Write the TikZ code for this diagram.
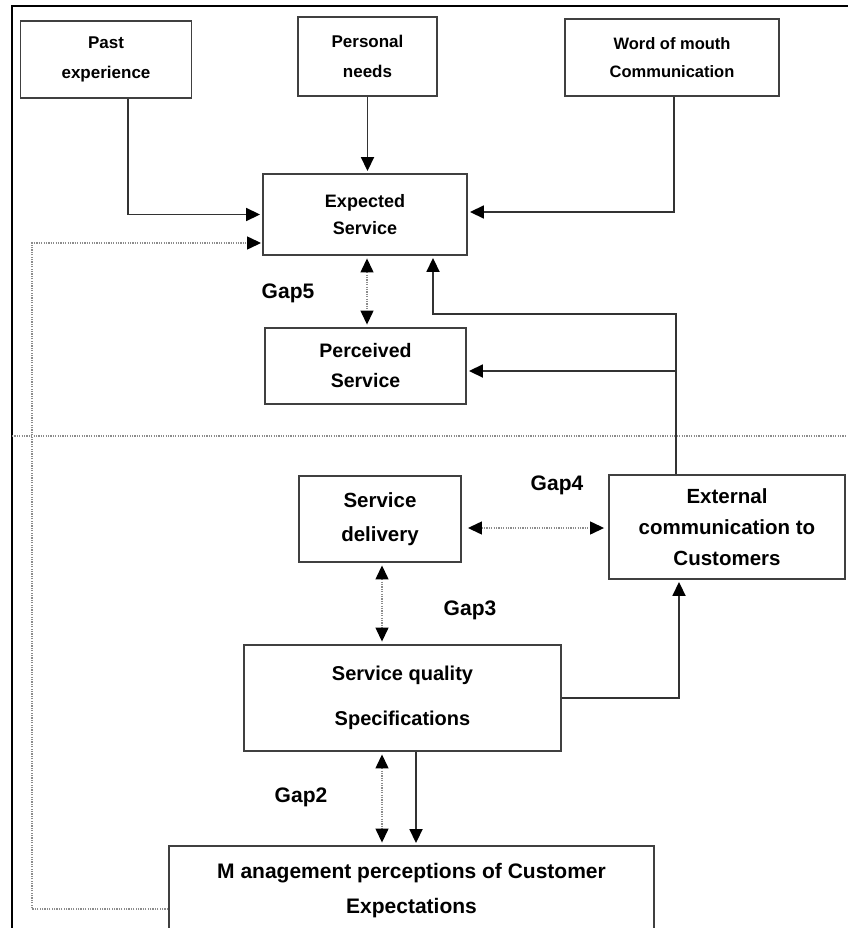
\documentclass[tikz,border=0pt]{standalone}
\usepackage{fontspec}
\setmainfont{Liberation Sans}
\usetikzlibrary{arrows.meta}
\tikzset{
  box/.style={draw=black!75, line width=1.9pt, rectangle, align=center, inner sep=0pt, font=\bfseries},
  conn/.style={draw=black!80, line width=1.8pt},
  tipA/.tip={Triangle[length=14pt,width=13pt,fill=black,color=black]},
  arr/.style={conn, -tipA, shorten >=2pt},
  dotln/.style={draw=black!45, line width=1.3pt, dash pattern=on 1.2pt off 1.2pt},
  dotarr/.style={dotln, -tipA, shorten >=1pt},
  dotdbl/.style={dotln, tipA-tipA, shorten >=2.5pt, shorten <=2.5pt},
  gap/.style={font=\bfseries\fontsize{21}{25}\selectfont, inner sep=0pt},
  frame/.style={draw=black, line width=2.6pt}
}
\begin{document}
\begin{tikzpicture}[x=1pt,y=-1pt]
\useasboundingbox (0,0) rectangle (847,928);
% frame
\coordinate (fa) at (12,930);
\coordinate (fb) at (12,6);
\coordinate (fc) at (849,6);
\draw[frame] (fa) -- (fb) -- (fc);
% horizontal dotted divider
\coordinate (da) at (12,436);
\coordinate (db) at (847,436);
\draw[dotln] (da) -- (db);

% boxes
\node[box, minimum width=171pt, minimum height=77pt, font=\bfseries\fontsize{17}{30}\selectfont] (past) at (106,59.5) {Past\\experience};
\node[box, minimum width=139pt, minimum height=79pt, font=\bfseries\fontsize{17}{30}\selectfont] (pers) at (367.5,56.5) {Personal\\needs};
\node[box, minimum width=214pt, minimum height=77pt, font=\bfseries\fontsize{16.5}{28}\selectfont] (wom) at (672,57.5) {Word of mouth\\Communication};
\node[box, minimum width=204pt, minimum height=81pt, font=\bfseries\fontsize{18}{27}\selectfont] (exp) at (365,214.5) {Expected\\Service};
\node[box, minimum width=201pt, minimum height=76pt, font=\bfseries\fontsize{19.5}{30}\selectfont] (perc) at (365.5,366) {Perceived\\Service};
\node[box, minimum width=162pt, minimum height=86pt, font=\bfseries\fontsize{20.5}{34}\selectfont] (sd) at (380,519) {Service\\delivery};
\node[box, minimum width=236pt, minimum height=104pt, font=\bfseries\fontsize{20.5}{31}\selectfont] (ext) at (727,527) {External\\communication to\\Customers};
\node[box, minimum width=317pt, minimum height=106pt, font=\bfseries\fontsize{20}{45}\selectfont] (sq) at (402.5,698) {Service quality\\Specifications};
\node[box, minimum width=485pt, minimum height=89pt, font=\bfseries\fontsize{21}{35}\selectfont] (mgmt) at (411.5,890.5) {M anagement perceptions of Customer\\Expectations};

% gap labels
\node[gap] (g5) at (288,293) {Gap5};
\node[gap] (g4) at (557,485) {Gap4};
\node[gap] (g3) at (470,610) {Gap3};
\node[gap] (g2) at (301,797) {Gap2};

% top inputs
\draw[arr] ([xshift=22pt]past.south) |- (exp.west);
\draw[arr] (pers.south) -- (pers.south |- exp.north);
\draw[arr] ([xshift=2pt]wom.south) |- ([yshift=2.5pt]exp.east);

% feedback dotted from management to expected
\coordinate (fbtop) at (32,243);
\draw[dotarr] ([yshift=-18.5pt]mgmt.west) -| (fbtop) -- (fbtop -| exp.west);

% gap5
\draw[dotdbl] ([xshift=2pt]exp.south) -- ([xshift=2pt]exp.south |- perc.north);

% external communication outputs
\coordinate (j1) at (676,314);
\coordinate (j2) at (676,371);
\draw[arr] ([xshift=-51pt]ext.north) -- (j1) -| ([xshift=68pt]exp.south);
\draw[arr] (j2) -- (j2 -| perc.east);

% gap4
\draw[dotdbl, shorten <=6pt, shorten >=4pt] ([yshift=-9pt]sd.east) -- ([yshift=-9pt]sd.east -| ext.west);

% gap3
\draw[dotdbl] ([xshift=2pt]sd.south) -- ([xshift=2pt]sd.south |- sq.north);

% sq to ext
\draw[arr] ([yshift=0pt]sq.east) -| ([xshift=-48pt]ext.south);

% gap2 and sq to mgmt
\draw[dotdbl] ([xshift=-20.5pt]sq.south) -- ([xshift=-20.5pt]sq.south |- mgmt.north);
\draw[arr] ([xshift=13.5pt]sq.south) -- ([xshift=13.5pt]sq.south |- mgmt.north);
\end{tikzpicture}
\end{document}
